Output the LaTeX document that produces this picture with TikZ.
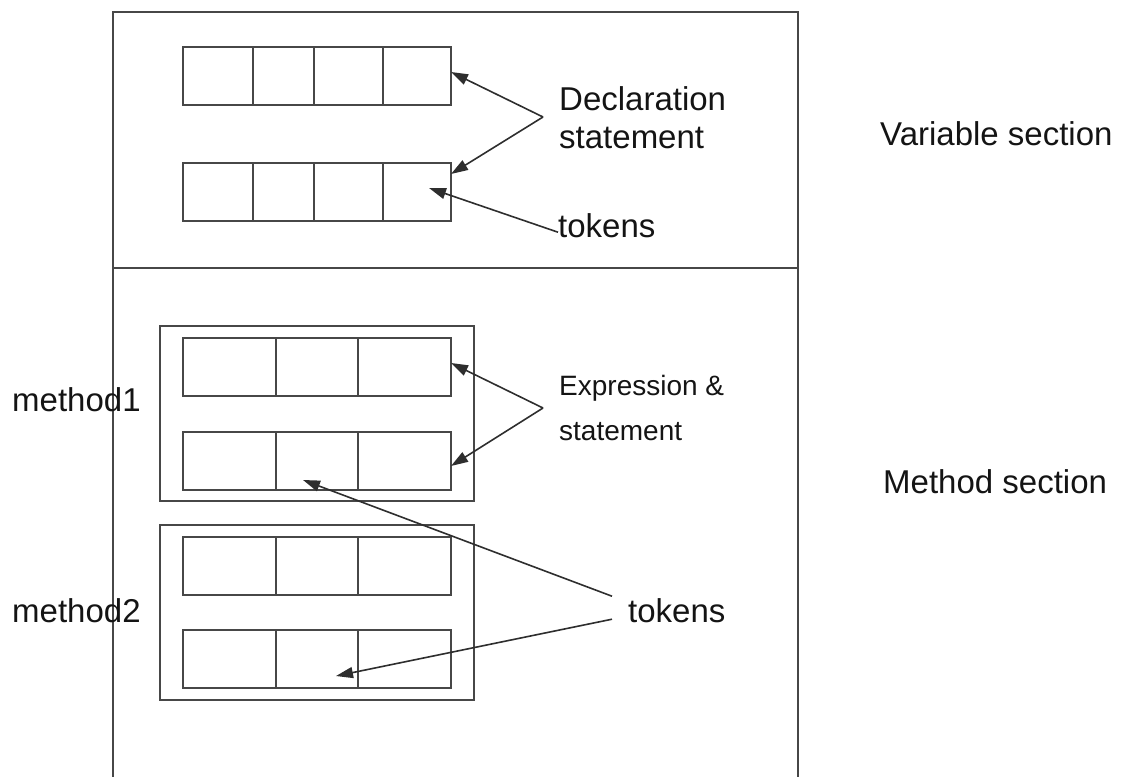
\documentclass[tikz,border=0pt]{standalone}
\usepackage{fontspec}
\setmainfont{Liberation Sans}
\usetikzlibrary{arrows.meta}
\begin{document}
\begin{tikzpicture}[x=1pt,y=-1pt,
  frameline/.style={draw=black!72, line width=1.7pt},
  cell/.style={frameline, rectangle, inner sep=0pt, outer sep=0pt, minimum height=58pt},
  methodbox/.style={frameline, rectangle, inner sep=0pt, outer sep=0pt, anchor=north west},
  label/.style={anchor=base west, inner sep=0pt, text=black!92},
  big/.style={label, font=\fontsize{33}{38}\selectfont},
  small/.style={label, font=\fontsize{28}{32}\selectfont},
  pointer/.style={draw=black!82, line width=1.6pt, -{Triangle[length=17pt,width=11pt]}}]
\useasboundingbox (0,0) rectangle (1131,776);

% outer frame (open at the bottom) and the section divider
\draw[frameline] (113,790) -- (113,12) -- (798,12) -- (798,790);
\draw[frameline] (113,268) -- (798,268);

% variable section: two statements of four tokens each
\foreach \r/\y in {d1/47, d2/163}
  \foreach \i/\a/\b in {1/183/253, 2/253/314, 3/314/383, 4/383/451}
    \node[cell, minimum width={\b-\a}, anchor=north west] (\r-\i) at (\a,\y) {};

% method section: two methods of two statements each
\node[methodbox, minimum width=314pt, minimum height=175pt] (meth1) at (160,326) {};
\node[methodbox, minimum width=314pt, minimum height=175pt] (meth2) at (160,525) {};
\foreach \r/\y in {m1/338, m2/432, m3/537, m4/630}
  \foreach \i/\a/\b in {1/183/276, 2/276/358, 3/358/451}
    \node[cell, minimum width={\b-\a}, anchor=north west] (\r-\i) at (\a,\y) {};

% labels
\node[big] (decl)  at (559,110) {Declaration};
\node[big] (declb) at (559,148) {statement};
\node[big] (tok1)  at (558,237) {tokens};
\node[big] (vsec)  at (880,145) {Variable section};
\node[small] (expr)  at (559,395) {Expression \&};
\node[small] (exprb) at (559,440) {statement};
\node[big] (tok2)  at (628,622) {tokens};
\node[big] (msec)  at (883,493) {Method section};
\node[big] (mname1) at (12,411) {method1};
\node[big] (mname2) at (12,622) {method2};

% arrow forks
\coordinate (declfork) at (543,117);
\coordinate (exprfork) at (543,408);

\draw[pointer] (declfork) -- ([yshift=4pt]d1-4.east);
\draw[pointer] (declfork) -- ([yshift=-11pt]d2-4.north east);
\draw[pointer] ([yshift=-7pt]tok1.west) -- ([xshift=12pt,yshift=4pt]d2-4.center);

\draw[pointer] (exprfork) -- ([yshift=4pt]m1-3.east);
\draw[pointer] (exprfork) -- ([yshift=-5pt]m2-3.east);
\draw[pointer] ([xshift=-16pt,yshift=14pt]tok2.west) -- ([xshift=-14pt,yshift=-19pt]m2-2.center);
\draw[pointer] ([xshift=-16pt,yshift=-9pt]tok2.west) -- ([xshift=19pt,yshift=-17pt]m4-2.center);
\end{tikzpicture}
\end{document}
